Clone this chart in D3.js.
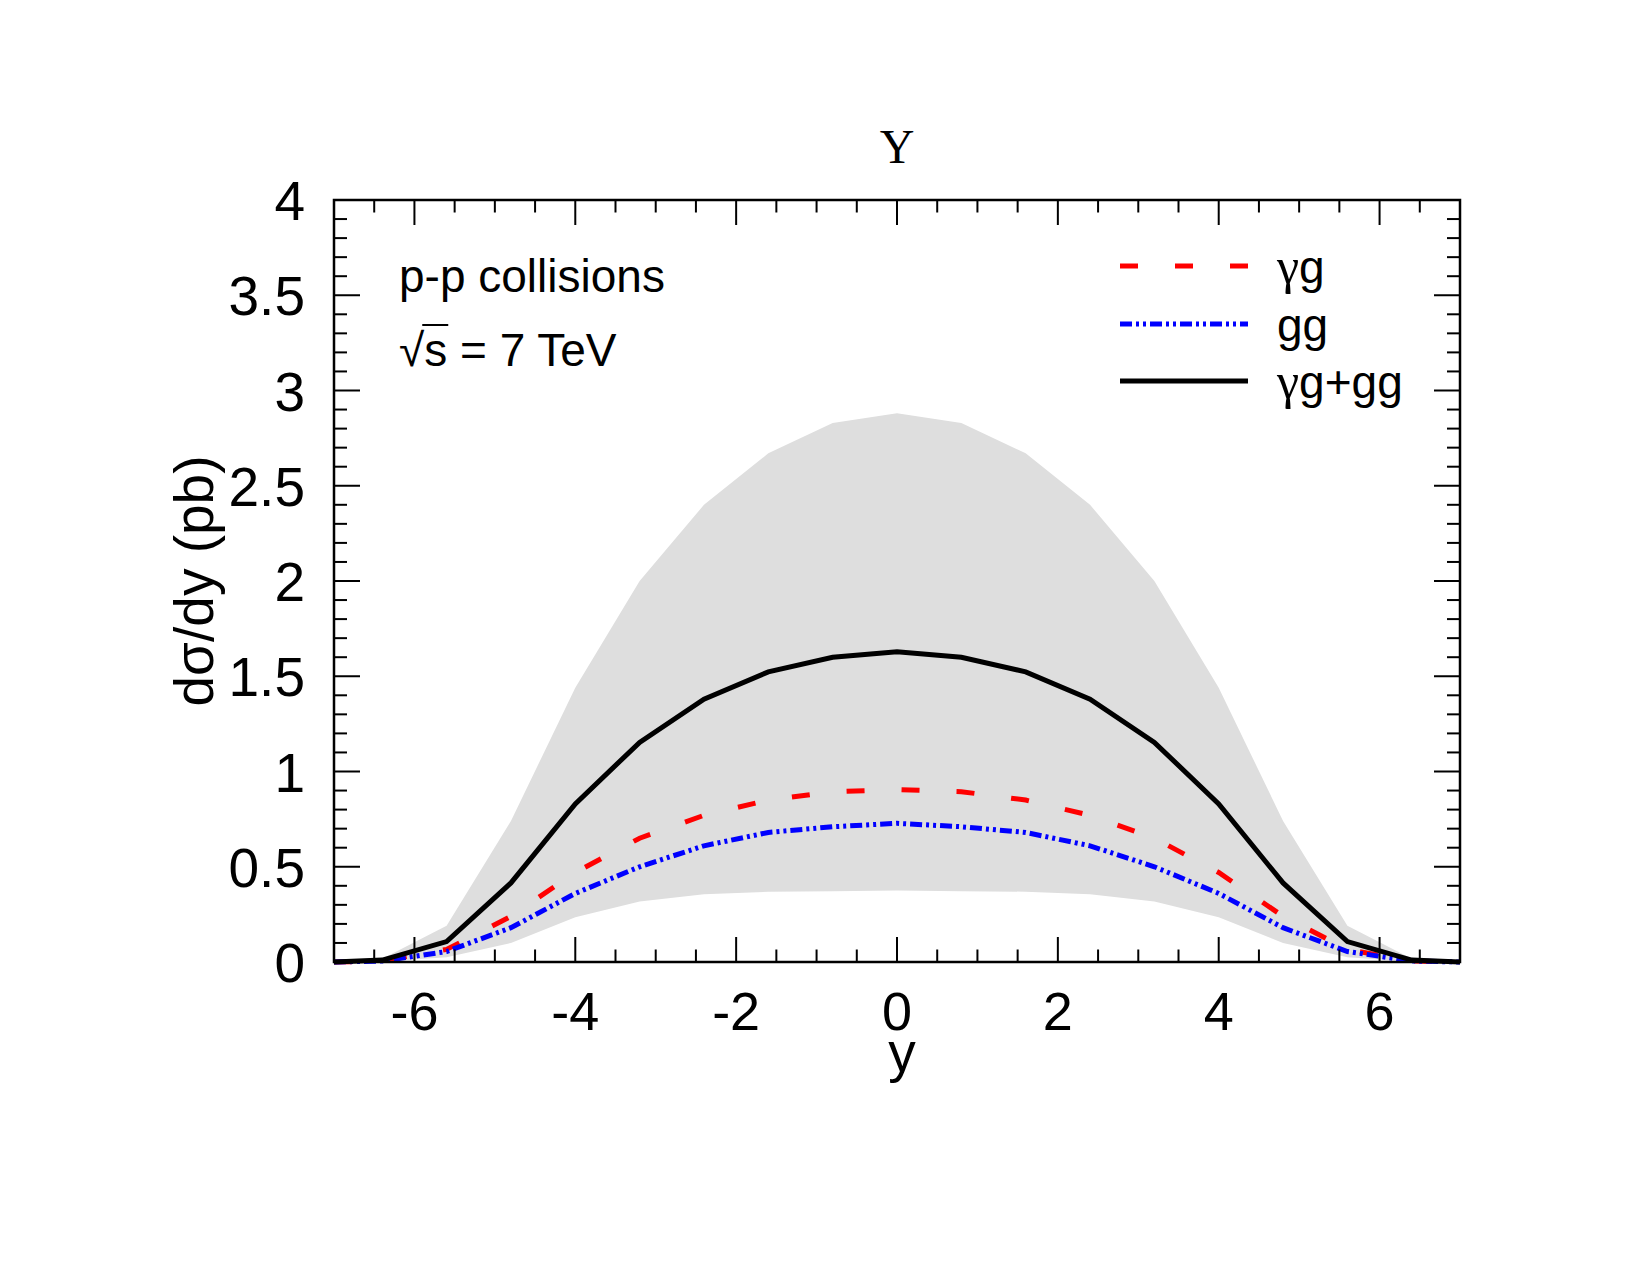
<!DOCTYPE html>
<html>
<head>
<meta charset="utf-8">
<script src="https://cdn.jsdelivr.net/npm/d3@7"></script>
<style>
  body { margin: 0; background: #fff; }
  text { font-family: "Liberation Sans", Arial, sans-serif; fill: #000; }
  .greek { font-family: "Liberation Serif", "Times New Roman", serif; }
</style>
</head>
<body>
<svg id="chart" width="1650" height="1275"></svg>
<script>
// rapidity points
var rapidity = [-7, -6.4, -5.6, -4.8, -4, -3.2, -2.4, -1.6, -0.8, 0, 0.8, 1.6, 2.4, 3.2, 4, 4.8, 5.6, 6.4, 7];
// gamma-g contribution
var gammaG = [0, 0.005, 0.066, 0.24, 0.47, 0.65, 0.77, 0.85, 0.894, 0.905, 0.894, 0.85, 0.77, 0.65, 0.47, 0.24, 0.066, 0.005, 0];
// g-g contribution
var ggVals = [0, 0.005, 0.055, 0.18, 0.36, 0.50, 0.61, 0.68, 0.71, 0.728, 0.71, 0.68, 0.61, 0.50, 0.36, 0.18, 0.055, 0.005, 0];
// sum
var total = [0, 0.01, 0.107, 0.415, 0.83, 1.153, 1.38, 1.523, 1.60, 1.629, 1.60, 1.523, 1.38, 1.153, 0.83, 0.415, 0.107, 0.01, 0];
// uncertainty band
var bandHigh = [0, 0.017, 0.19, 0.74, 1.44, 2.0, 2.40, 2.67, 2.83, 2.88, 2.83, 2.67, 2.40, 2.0, 1.44, 0.74, 0.19, 0.017, 0];
var bandLow = [0, 0.003, 0.025, 0.1, 0.235, 0.317, 0.355, 0.369, 0.372, 0.375, 0.372, 0.369, 0.355, 0.317, 0.235, 0.1, 0.025, 0.003, 0];

var xTicks = [-6, -4, -2, 0, 2, 4, 6];
var yTicks = [0, 0.5, 1, 1.5, 2, 2.5, 3, 3.5, 4];
var legendLabels = [["\u03b3", "g"], ["", "gg"], ["\u03b3", "g+gg"]];

// Dimensions
var plotLeft = 334, plotTop = 200, plotWidth = 1126, plotHeight = 762;
var plotBottom = plotTop + plotHeight, plotRight = plotLeft + plotWidth;

var svg = d3.select("#chart");

var x = d3.scaleLinear().domain([-7, 7]).range([plotLeft, plotRight]);
var y = d3.scaleLinear().domain([0, 4]).range([plotBottom, plotTop]);

// band
var band = d3.area()
  .x(function(d, i) { return x(rapidity[i]); })
  .y0(function(d, i) { return y(bandLow[i]); })
  .y1(function(d, i) { return y(bandHigh[i]); });

svg.append("path")
  .datum(rapidity)
  .attr("d", band)
  .attr("fill", "#dedede");

var series = [
  { values: gammaG, color: "#ff0000", dash: "18,37" },
  { values: ggVals, color: "#0000ff", dash: "12,4,3,4,3,4" },
  { values: total, color: "#000000", dash: null }
];

series.forEach(function(s) {
  var line = d3.line()
    .x(function(d, i) { return x(rapidity[i]); })
    .y(function(d) { return y(d); });
  svg.append("path")
    .datum(s.values)
    .attr("d", line)
    .attr("fill", "none")
    .attr("stroke", s.color)
    .attr("stroke-width", 5)
    .attr("stroke-dasharray", s.dash);
});

// Frame + ticks (ticks drawn inside on all four sides)
var axes = svg.append("g").attr("stroke", "#000").attr("stroke-width", 2);

d3.range(-6.5, 7, 0.5).forEach(function(v) {
  var major = Math.abs(v % 2) < 1e-9;
  var len = major ? 25 : 12.5;
  axes.append("line").attr("x1", x(v)).attr("x2", x(v))
    .attr("y1", plotBottom).attr("y2", plotBottom - len);
  axes.append("line").attr("x1", x(v)).attr("x2", x(v))
    .attr("y1", plotTop).attr("y2", plotTop + len);
});

d3.range(1, 40).forEach(function(k) {
  var v = k / 10;
  var len = (k % 5 === 0) ? 26 : 13;
  axes.append("line").attr("x1", plotLeft).attr("x2", plotLeft + len)
    .attr("y1", y(v)).attr("y2", y(v));
  axes.append("line").attr("x1", plotRight).attr("x2", plotRight - len)
    .attr("y1", y(v)).attr("y2", y(v));
});

axes.append("rect")
  .attr("x", plotLeft).attr("y", plotTop)
  .attr("width", plotWidth).attr("height", plotHeight)
  .attr("fill", "none")
  .attr("stroke-width", 2.5);

// Tick labels
svg.selectAll(".xlab").data(xTicks).enter().append("text")
  .attr("class", "xlab")
  .attr("x", function(d) { return x(d); })
  .attr("y", 1030)
  .attr("text-anchor", "middle")
  .attr("font-size", 54)
  .text(function(d) { return d < 0 ? "-" + Math.abs(d) : d; });

svg.selectAll(".ylab").data(yTicks).enter().append("text")
  .attr("class", "ylab")
  .attr("x", 305)
  .attr("y", function(d) { return y(d) + 20; })
  .attr("text-anchor", "end")
  .attr("font-size", 55)
  .text(function(d) { return d; });

// Axis titles
svg.append("text")
  .attr("x", 902).attr("y", 1071)
  .attr("text-anchor", "middle")
  .attr("font-size", 55)
  .text("y");

svg.append("text")
  .attr("transform", "translate(213,581) rotate(-90)")
  .attr("text-anchor", "middle")
  .attr("font-size", 55)
  .text("d\u03c3/dy (pb)");

svg.append("text")
  .attr("x", 897).attr("y", 163)
  .attr("text-anchor", "middle")
  .attr("font-size", 48)
  .attr("class", "greek")
  .text("\u03a5");

// Labels inside the frame
svg.append("text")
  .attr("x", 399).attr("y", 292)
  .attr("font-size", 46)
  .text("p-p collisions");

var sqrtText = svg.append("text")
  .attr("x", 399).attr("y", 366)
  .attr("font-size", 46);
sqrtText.append("tspan").attr("id", "root").text("\u221a");
sqrtText.append("tspan").attr("id", "sarg").text("s");
sqrtText.append("tspan").text(" = 7 TeV");

var rootLen = d3.select("#root").node().getComputedTextLength();
var sLen = d3.select("#sarg").node().getComputedTextLength();
svg.append("line")
  .attr("x1", 399 + rootLen - 2).attr("x2", 399 + rootLen + sLen + 1)
  .attr("y1", 325).attr("y2", 325)
  .attr("stroke", "#000").attr("stroke-width", 2);

// Legend
var legendRows = [266, 324, 381];
series.forEach(function(s, i) {
  svg.append("line")
    .attr("x1", 1120).attr("x2", 1248)
    .attr("y1", legendRows[i]).attr("y2", legendRows[i])
    .attr("stroke", s.color)
    .attr("stroke-width", 5)
    .attr("stroke-dasharray", s.dash);
  var t = svg.append("text")
    .attr("x", 1277).attr("y", legendRows[i] + 17)
    .attr("font-size", 46);
  t.append("tspan").attr("class", "greek").attr("font-size", 50).text(legendLabels[i][0]);
  t.append("tspan").text(legendLabels[i][1]);
});
</script>
</body>
</html>
